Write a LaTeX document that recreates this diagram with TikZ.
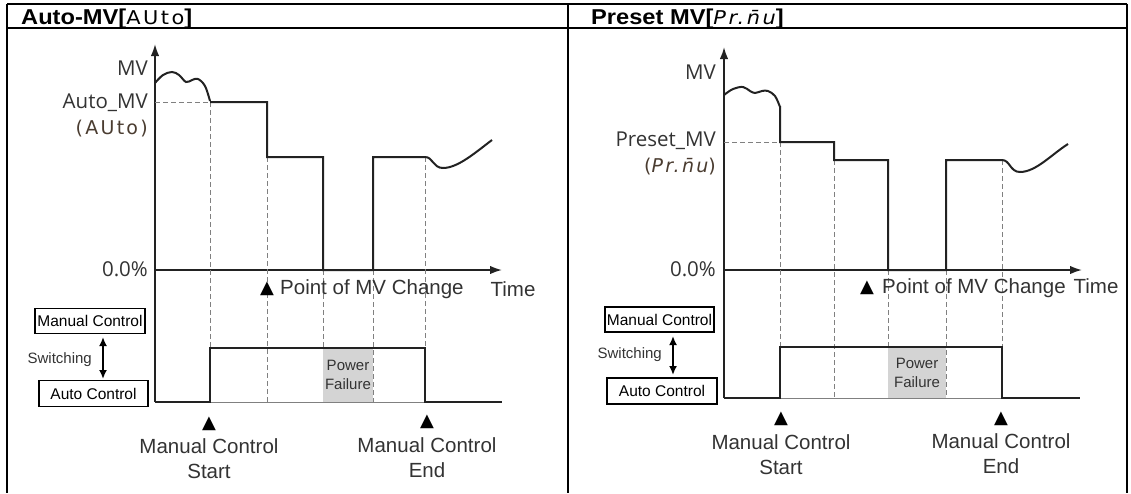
\documentclass[tikz,border=0pt]{standalone}
\usepackage{fontspec}
\setmainfont{Liberation Sans}
\newfontfamily\lab{Open Sans}
\newfontfamily\seg[LetterSpace=12]{DejaVu Sans}
\newfontfamily\tfont{DejaVu Sans}
\usetikzlibrary{arrows.meta}
\definecolor{ink}{HTML}{222222}
\definecolor{txt}{HTML}{333333}
\definecolor{segc}{HTML}{4A3C30}
\definecolor{pf}{HTML}{D4D4D4}
\begin{document}
\begin{tikzpicture}[x=1pt,y=-1pt,
  frame/.style={line width=2pt,black},
  axis/.style={line width=1.8pt,ink},
  axarrow/.style={axis,-{Latex[length=12pt,width=8.5pt]}},
  sig/.style={line width=2pt,ink,line join=miter},
  guide/.style={line width=0.9pt,gray,dash pattern=on 5pt off 3pt},
  thin/.style={line width=0.8pt,gray},
  hdr/.style={anchor=base west,inner sep=0pt,font=\fontsize{21.5}{23}\selectfont\bfseries},
  glab/.style={anchor=east,inner sep=0pt,text=txt,font=\lab\fontsize{20.5}{22}\selectfont},
  seglab/.style={anchor=east,inner sep=0pt,text=segc,font=\seg\fontsize{19}{21}\selectfont},
  big/.style={inner sep=0pt,text=txt,font=\fontsize{20.5}{25}\selectfont,align=center},
  tri/.style={inner sep=0pt,text=black,font=\tfont\fontsize{18}{18}\selectfont},
  modebox/.style={draw,line width=1.8pt,inner sep=0pt,text=black,font=\fontsize{15.5}{17}\selectfont},
  small/.style={inner sep=0pt,text=txt,font=\fontsize{15}{19}\selectfont,align=center},
  sw/.style={line width=2pt,black,{Latex[length=9pt,width=8pt]}-{Latex[length=9pt,width=8pt]}}
]
\useasboundingbox (0,0) rectangle (1131,493);
% ---------------- table frame
\coordinate (tl) at (7,3.5);
\coordinate (tr) at (1127,3.5);
\coordinate (hl) at (7,28);
\coordinate (hr) at (1127,28);
\coordinate (bl) at (7,493);
\coordinate (br) at (1127,493);
\coordinate (tm) at (568,3.5);
\coordinate (bm) at (568,493);
\draw[frame] (tl) -- (tr);
\draw[frame] (hl) -- (hr);
\draw[frame] (tl) -- (bl);
\draw[frame] (tm) -- (bm);
\draw[frame] (tr) -- (br);
\node[hdr] (h1) at (21,24.5) {\scalebox{1.1}[1]{Auto-MV[{\mdseries\seg\fontsize{19}{20}\selectfont AUto}]}};
\node[hdr] (h2) at (591,24.5) {\scalebox{1.1}[1]{Preset MV[{\mdseries\seg\itshape\fontsize{19}{20}\selectfont Pr.n̄u}]}};

% ================= LEFT PANEL
\coordinate (Ao) at (155,402);
\coordinate (Ay) at (155,44);
\coordinate (Az) at (155,270);
\coordinate (Ax) at (502,270);
\draw[axarrow] (Ao) -- (Ay);
\draw[axarrow] (Az) -- (Ax);
\node[glab] (amv) at (148,68) {MV};
\node[glab] (aauto) at (148,103) {Auto\_MV};
\node[seglab] (aseg) at (148,129) {(AUto)};
\node[glab] (azero) at (148,269) {0.0\%};
% dashed guides
\coordinate (g1t) at (210,102); \coordinate (g1b) at (210,402);
\coordinate (g2t) at (267,157); \coordinate (g2b) at (267,402);
\coordinate (g3t) at (323,270); \coordinate (g3b) at (323,402);
\coordinate (g4t) at (373,270); \coordinate (g4b) at (373,402);
\coordinate (g5t) at (425,157); \coordinate (g5b) at (425,402);
\draw[guide] (155,102) -- (g1t);
\draw[guide] (g1t) -- (g1b);
\draw[guide] (g2t) -- (g2b);
\draw[guide] (g3t) -- (g3b);
\draw[guide] (g4t) -- (g4b);
\draw[guide] (g5t) -- (g5b);
% power failure
\fill[pf] (323,348) rectangle (373,402);
\node[small] (apf) at (348,375) {Power\\Failure};
% MV signal
\draw[sig] plot[smooth,tension=0.6] coordinates {(155,83) (163,75) (172,72) (179,75) (186,82) (192,80) (198,79) (205,86) (210,101)};
\draw[sig] (g1t) -- (267,102) -- (g2t) -- (323,157) -- (g3t) -- (g4t) -- (373,157) -- (g5t)
  .. controls (433,157) and (433,168) .. (443,168) .. controls (458,168) and (476,152) .. (492,140);
\node[tri] (apt) at (267,289) {▲};
\node[big,anchor=west] (apoc) at (280,289) {Point of MV Change};
\node[big] (atime) at (513,289) {Time};
% switching signal
\draw[thin] (g1b) -- (g5b);
\draw[sig] (Ao) -- (g1b) -- (210,348) -- (425,348) -- (g5b) -- (502,402);
\node[modebox,minimum width=110pt,minimum height=25pt] (aman) at (90,321) {Manual Control};
\node[modebox,minimum width=109pt,minimum height=26pt] (aaut) at (93.5,393.5) {Auto Control};
\coordinate (asw1) at (103,337);
\coordinate (asw2) at (103,379);
\draw[sw] (asw1) -- (asw2);
\node[small,anchor=east] (asw) at (92,360) {Switching};
\node[tri] (ast) at (209,424) {▲};
\node[big] (astl) at (209,459) {Manual Control\\Start};
\node[tri] (aen) at (427,422) {▲};
\node[big] (aenl) at (427,458) {Manual Control\\End};

% ================= RIGHT PANEL
\coordinate (Bo) at (724,398);
\coordinate (By) at (724,47);
\coordinate (Bz) at (724,270);
\coordinate (Bx) at (1082,270);
\draw[axarrow] (Bo) -- (By);
\draw[axarrow] (Bz) -- (Bx);
\node[glab] (bmv) at (716,72) {MV};
\node[glab] (bpre) at (716,141) {Preset\_MV};
\node[seglab] (bseg) at (716,167) {({\itshape Pr.n̄u})};
\node[glab] (bzero) at (716,269) {0.0\%};
\coordinate (h1t) at (780,142); \coordinate (h1b) at (780,398);
\coordinate (h2t) at (834,160); \coordinate (h2b) at (834,398);
\coordinate (h3t) at (888,270); \coordinate (h3b) at (888,398);
\coordinate (h4t) at (946,270); \coordinate (h4b) at (946,398);
\coordinate (h5t) at (1002,160); \coordinate (h5b) at (1002,398);
\draw[guide] (724,142) -- (h1t);
\draw[guide] (h1t) -- (h1b);
\draw[guide] (h2t) -- (h2b);
\draw[guide] (h3t) -- (h3b);
\draw[guide] (h4t) -- (h4b);
\draw[guide] (h5t) -- (h5b);
\fill[pf] (888,347) rectangle (946,398);
\node[small] (bpf) at (917,373) {Power\\Failure};
\draw[sig] plot[smooth,tension=0.6] coordinates {(724,95) (733,89) (743,87) (750,91) (755,93) (762,91) (768,91) (775,96) (780,107)};
\draw[sig] (780,106) -- (h1t) -- (834,142) -- (h2t) -- (888,160) -- (h3t) -- (h4t) -- (946,160) -- (h5t)
  .. controls (1010,160) and (1010,172) .. (1020,172) .. controls (1036,172) and (1052,154) .. (1068,144);
\node[tri] (bpt) at (867,288) {▲};
\node[big,anchor=west] (bpoc) at (882,288) {Point of MV Change};
\node[big] (btime) at (1096,286) {Time};
\draw[thin] (h1b) -- (h5b);
\draw[sig] (Bo) -- (h1b) -- (780,347) -- (1002,347) -- (h5b) -- (1080,398);
\node[modebox,minimum width=109pt,minimum height=25pt] (bman) at (659.5,319.5) {Manual Control};
\node[modebox,minimum width=110pt,minimum height=26pt] (baut) at (662,391) {Auto Control};
\coordinate (bsw1) at (673,336);
\coordinate (bsw2) at (673,375);
\draw[sw] (bsw1) -- (bsw2);
\node[small,anchor=east] (bsw) at (662,355) {Switching};
\node[tri] (bst) at (781,419) {▲};
\node[big] (bstl) at (781,455) {Manual Control\\Start};
\node[tri] (ben) at (1001,419) {▲};
\node[big] (benl) at (1001,454) {Manual Control\\End};
\end{tikzpicture}
\end{document}
